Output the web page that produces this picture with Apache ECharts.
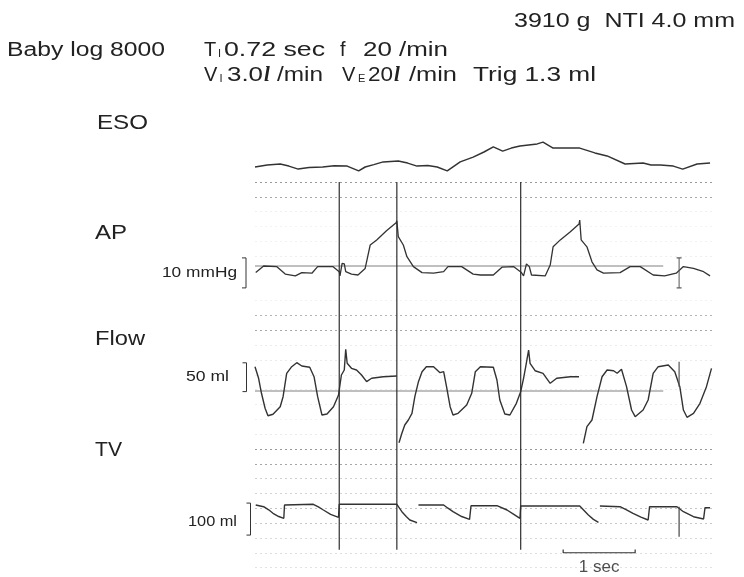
<!DOCTYPE html>
<html><head><meta charset="utf-8">
<script src="https://cdn.jsdelivr.net/npm/echarts@6/dist/echarts.min.js"></script>
<style>html,body{margin:0;padding:0;background:#fff}#c{width:744px;height:577px}</style>
</head><body><div id="c"></div>
<script>
// ---- time axis (seconds) ----
const X_MAX = 6.347;
// ---- ESO (cmH2O, relative) ----
const esoPoints = [[0.00,0.0],[0.17,0.7],[0.35,1.0],[0.47,0.3],[0.60,-0.7],[0.75,-0.2],[0.94,0.0],[1.10,0.4],[1.28,0.3],[1.44,-1.3],[1.53,0.0],[1.65,0.8],[1.78,1.7],[1.99,2.0],[2.12,1.3],[2.25,0.3],[2.40,0.5],[2.53,0.0],[2.67,-1.3],[2.85,1.7],[3.03,3.3],[3.18,5.0],[3.31,6.7],[3.44,5.3],[3.56,6.3],[3.68,7.0],[3.92,7.7],[4.00,8.3],[4.14,6.3],[4.51,6.3],[4.72,4.7],[4.89,3.7],[5.14,1.0],[5.39,1.3],[5.50,0.7],[5.63,0.7],[5.81,0.3],[5.94,-0.7],[6.14,1.0],[6.32,1.3]];
// ---- AP (mmHg) ----
const apPoints = [[0.01,-2.2],[0.12,0],[0.30,-0.2],[0.42,-2.7],[0.56,-3.3],[0.65,-2.2],[0.79,-2.4],[0.87,-0.2],[1.08,-0.2],[1.17,-1.9],[1.18,-3.3],[1.21,0.9],[1.24,0.7],[1.26,-1.9],[1.34,-2.7],[1.43,-3.0],[1.53,-0.8],[1.60,7.0],[1.69,8.7],[1.83,11.8],[1.96,14.4],[1.97,15.1],[1.99,9.8],[2.06,7.0],[2.11,3.1],[2.20,-0.2],[2.32,-2.2],[2.48,-2.4],[2.62,-1.9],[2.68,-0.2],[2.87,-0.2],[3.03,-2.7],[3.13,-3.0],[3.31,-3.0],[3.43,-0.4],[3.59,-0.2],[3.70,-2.2],[3.73,-3.3],[3.77,0.7],[3.81,-0.2],[3.84,-3.0],[4.03,-3.3],[4.10,0.3],[4.14,6.4],[4.24,8.7],[4.38,11.4],[4.50,14.0],[4.51,15.3],[4.53,8.7],[4.61,6.4],[4.68,1.4],[4.75,-1.3],[4.84,-2.4],[5.07,-2.2],[5.21,-0.2],[5.35,-0.2],[5.53,-3.0],[5.69,-3.3],[5.85,-2.4],[5.95,-0.2],[6.09,-0.8],[6.23,-1.9],[6.32,-3.3]];
const apBaseline = [[0,0],[5.67,0]];
const apCal = [-7.3, 2.7];            // 10 mmHg
// ---- Flow (ml/s) ----
const flowA = [[0.00,40.5],[0.05,21.2],[0.09,-3.8],[0.14,-28.8],[0.18,-41.2],[0.25,-38.8],[0.35,-26.2],[0.39,-9.5],[0.44,29.5],[0.51,40.5],[0.58,47.2],[0.65,41.7],[0.76,39.5],[0.82,23.8],[0.87,-9.5],[0.93,-40],[1.00,-38.3],[1.09,-26.2],[1.16,-6.7],[1.20,26.7],[1.24,35],[1.26,69.5],[1.28,46.2],[1.34,37.8],[1.41,35],[1.48,26.7],[1.55,15.5],[1.62,21.2],[1.78,23.8],[1.97,25]];
const flowB = [[2.00,-86.2],[2.04,-70.5],[2.08,-56.7],[2.13,-48.3],[2.18,-37.2],[2.22,-9.5],[2.27,15.5],[2.32,32.2],[2.38,40.5],[2.48,40.5],[2.57,30.5],[2.62,32.2],[2.66,7.2],[2.71,-26.2],[2.75,-40],[2.82,-37.2],[2.94,-23.3],[3.01,-3.8],[3.06,32.2],[3.13,40.5],[3.31,39.5],[3.36,18.3],[3.40,-15],[3.47,-38.3],[3.54,-40],[3.63,-20.5],[3.69,-1.2],[3.73,21.2],[3.76,40.5],[3.80,68.3],[3.82,46.2],[3.89,33.8],[4.00,29.5],[4.10,12.8],[4.19,21.2],[4.38,23.8],[4.50,23.8]];
const flowC = [[4.56,-87.2],[4.61,-59.5],[4.68,-48.3],[4.75,-9.5],[4.82,23.8],[4.89,35],[4.98,33.8],[5.03,29.5],[5.09,36.2],[5.16,7.2],[5.23,-31.7],[5.28,-42.8],[5.39,-31.7],[5.46,-15],[5.53,29.5],[5.60,40.5],[5.74,43.3],[5.83,32.2],[5.90,7.2],[5.95,-31.7],[6.00,-43.8],[6.09,-37.2],[6.18,-20.5],[6.27,7.2],[6.34,37.8]];
const flowBaseline = [[0,0],[5.67,0]];
const flowCal = [-1, 47];             // 50 ml
// ---- TV (ml) ----
const tvA = [[0.01,50],[0.12,44.7],[0.19,35],[0.25,24],[0.33,14],[0.40,8.4],[0.41,50],[0.81,52.2],[0.88,44],[0.95,34.4],[1.05,21],[1.16,11.6],[1.17,52.2],[1.97,52.2],[2.04,29.1],[2.10,14],[2.15,3.1],[2.25,-5.3]];
const tvB = [[2.27,50],[2.62,50],[2.68,40],[2.75,29.1],[2.87,14],[2.98,5.3],[3.00,47.8],[3.36,47.8],[3.50,34.4],[3.60,20],[3.68,8.4],[3.69,46.9],[4.51,46.9],[4.63,18.8],[4.70,5],[4.77,-4.1]];
const tvC = [[4.79,46.9],[5.07,44.7],[5.16,35],[5.25,24],[5.36,12],[5.46,3.1],[5.48,44.7],[5.86,44.7],[5.95,29.1],[6.09,13.4],[6.23,6.3],[6.25,41.6],[6.32,41.6]];
const tvCal = [-44, 56];              // 100 ml
// ---- markers ----
const markerTimes = [1.17, 1.97, 3.69];
const eventTime = 5.89;
const apEvent = [2.7, -7.3], flowEvent = [48.8, 7.2], tvEvent = [44.7, -49];
const scaleBarStart = 4.28, scaleBarLen = 1;
// ---- styles ----
const TRACE = '#333', BASE = '#808080';
const paperColors = ['#9a9a9a','#a8a8a8','#efefef','#f4f4f4','#f2f2f2','#efefef','rgba(0,0,0,0)','rgba(0,0,0,0)','#f2f2f2','#b4b4b4','#a8a8a8','#ececec','#ebebeb','#eeeeee','#ebebeb','#eeeeee','#f2f2f2','#ebebeb','#9a9a9a','#a6a6a6','#d0d0d0','#d4d4d4','#c4c4c4','#c8c8c8','#dadada','#dedede','#e2e2e2'];

const grids = [
  {left:255, width:457, top:131, height:51},
  {left:255, width:457, top:200, height:102},
  {left:255, width:457, top:343, height:108},
  {left:255, width:457, top:495.4, height:44.8},
  {left:255, width:457, top:182, height:385.6}
];
const xAxes = grids.map((g,i)=>({gridIndex:i,type:'value',min:0,max:X_MAX,show:false}));
const yAxes = [
  {gridIndex:0,type:'value',min:-5,max:12,show:false},
  {gridIndex:1,type:'value',min:-12,max:22,show:false},
  {gridIndex:2,type:'value',min:-100,max:80,show:false},
  {gridIndex:3,type:'value',min:-60,max:80,show:false},
  {gridIndex:4,type:'value',min:0,max:26,interval:1,inverse:true,
   axisLine:{show:false},axisTick:{show:false},axisLabel:{show:false},
   splitLine:{show:true,lineStyle:{color:paperColors,type:[2,3],width:1}}}
];
function ln(idx, data, color, width, extra){
  return Object.assign({type:'line',xAxisIndex:idx,yAxisIndex:idx,data:data,symbol:'none',silent:true,
    lineStyle:{color:color,width:width},z:3}, extra||{});
}
const series = [
  ln(0, esoPoints, TRACE, 1.5),
  ln(1, apBaseline, BASE, 1),
  ln(1, apPoints, TRACE, 1.3),
  ln(2, flowBaseline, BASE, 1),
  ln(2, flowA, TRACE, 1.4), ln(2, flowB, TRACE, 1.4), ln(2, flowC, TRACE, 1.4),
  ln(3, tvA, TRACE, 1.4), ln(3, tvB, TRACE, 1.4), ln(3, tvC, TRACE, 1.4)
];
const evStyle = {symbol:'rect', symbolSize:[5,1.2], showSymbol:true, itemStyle:{color:'#555'}};
series.push(ln(1, [[eventTime,apEvent[0]],[eventTime,apEvent[1]]], '#555', 1, evStyle));
series.push(ln(2, [[eventTime,flowEvent[0]],[eventTime,flowEvent[1]]], '#555', 1.2));
series.push(ln(3, [[eventTime,tvEvent[0]],[eventTime,tvEvent[1]]], '#444', 1.2));
markerTimes.forEach(t=>series.push(ln(4, [[t,0],[t,24.8]], '#2e2e2e', 1.2)));
series.push(ln(4, [[scaleBarStart,24.78],[scaleBarStart,25],[scaleBarStart+scaleBarLen,25],[scaleBarStart+scaleBarLen,24.78]], '#333', 1.2));
series.push({type:'scatter',xAxisIndex:4,yAxisIndex:4,data:[[scaleBarStart+scaleBarLen/2,26]],symbolSize:1,
  itemStyle:{color:'rgba(0,0,0,0)'},silent:true,clip:false,
  label:{show:true,position:'inside',formatter:'1 sec',color:'#222',fontFamily:'Liberation Sans',fontSize:17}});

const chart = echarts.init(document.getElementById('c'), null, {renderer:'canvas'});
chart.setOption({animation:false, backgroundColor:'#fff', grid:grids, xAxis:xAxes, yAxis:yAxes, series:series});

// ---- texts ----
const textItems = [
  {t:'3910 g  NTI 4.0 mm', x:514, y:21, w:221, s:20},
  {t:'Baby log 8000', x:7, y:50, w:158, s:20},
  {t:'T', x:204, y:50, s:20},
  {t:'I', x:218, y:53.5, s:11},
  {t:'0.72 sec', x:224, y:50, w:101, s:20},
  {t:'f', x:340, y:50, s:20},
  {t:'20 /min', x:363, y:50, w:85, s:20},
  {t:'V', x:204, y:75.5, s:20},
  {t:'I', x:219.5, y:79, s:11},
  {t:'3.0', x:227, y:75.5, w:36, s:20},
  {t:'l', x:264, y:75.5, s:21, f:'italic bold', fam:'Liberation Serif'},
  {t:'/min', x:277, y:75.5, w:46, s:20},
  {t:'V', x:342, y:75.5, s:20},
  {t:'E', x:358, y:79, s:11},
  {t:'20', x:368, y:75.5, w:25, s:20},
  {t:'l', x:394, y:75.5, s:21, f:'italic bold', fam:'Liberation Serif'},
  {t:'/min', x:409, y:75.5, w:48, s:20},
  {t:'Trig 1.3 ml', x:473, y:75.5, w:123, s:20},
  {t:'ESO', x:97, y:123, w:51, s:21},
  {t:'AP', x:95, y:233, w:32, s:21},
  {t:'Flow', x:95, y:339, w:50, s:21},
  {t:'TV', x:95, y:450.5, w:27, s:21},
  {t:'10 mmHg', x:162, y:273, w:75, s:15},
  {t:'50 ml', x:186, y:377, w:43, s:15},
  {t:'100 ml', x:188, y:521.5, w:49, s:15}
];
const ctx = document.createElement('canvas').getContext('2d');
const graphics = textItems.map(it=>{
  const font = `${it.f||''} ${it.s}px "${it.fam||'Liberation Sans'}"`.trim();
  ctx.font = font;
  const nat = ctx.measureText(it.t).width;
  const sx = it.w ? it.w/nat : 1;
  return {type:'text', x:it.x, y:it.y, scaleX:sx, scaleY:1, silent:true,
    style:{text:it.t, font:font, fill:'#222', textAlign:'left', textVerticalAlign:'middle', verticalAlign:'middle'}};
});
// calibration brackets from axis scales
[[1, apCal, 246], [2, flowCal, 246.5], [3, tvCal, 250.5]].forEach(([g, cal, bx])=>{
  const top = chart.convertToPixel({gridIndex:g}, [0, cal[1]])[1];
  const bot = chart.convertToPixel({gridIndex:g}, [0, cal[0]])[1];
  graphics.push({type:'polyline', silent:true, shape:{points:[[bx-4,top],[bx,top],[bx,bot],[bx-4,bot]]},
    style:{stroke:'#333', lineWidth:1, fill:null}});
});
chart.setOption({graphic:{elements:graphics}});
</script></body></html>
